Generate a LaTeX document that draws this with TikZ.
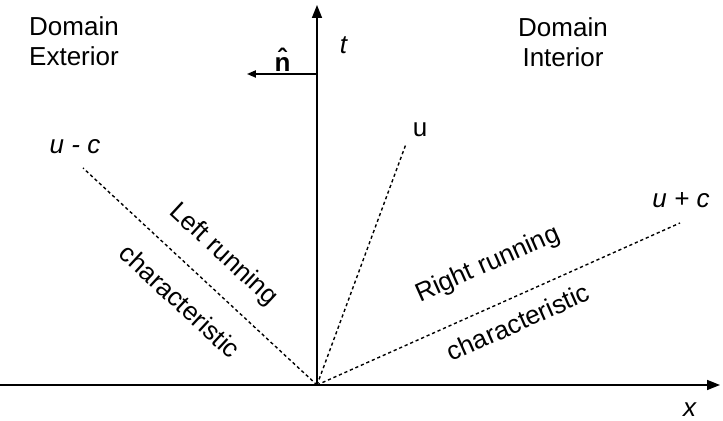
\documentclass[tikz,border=0pt]{standalone}
\usepackage{fontspec}
\setmainfont{Liberation Sans}
\usetikzlibrary{arrows.meta}
\tikzset{>=stealth}

\begin{document}
\begin{tikzpicture}[x=0.5pt,y=0.5pt,
		every node/.style={font=\fontsize{13}{15}\selectfont},
		axis/.style={line width=0.8pt,-{Triangle[length=6.5pt,width=5pt]}},
		charline/.style={line width=0.7pt,dash pattern=on 1.6pt off 1.4pt}]
				\useasboundingbox (-317,-36) rectangle (406,385);
				\coordinate (O) at (0,0);
				\coordinate (xStart) at (-317,0);
				\coordinate (xEnd) at (403,0);
				\coordinate (tEnd) at (0,380);
				\coordinate (nStart) at (-1,311);
				\coordinate (nEnd) at (-70,311);
				\coordinate (uEnd) at (89,241);
				\coordinate (upcEnd) at (363,162);
				\coordinate (umcEnd) at (-234,217);
				% axes
				\draw[axis] (xStart)--(xEnd);
				\draw[axis] (O)--(tEnd);
				\draw[line width=0.8pt,-{Triangle[length=4.5pt,width=3.6pt]}] (nStart)--(nEnd);
				% characteristics
				\draw[charline] (O)--(uEnd);
				\draw[charline] (O)--(upcEnd);
				\draw[charline] (O)--(umcEnd);
				% labels
				\node[align=left] (ext) at (-243,344) {Domain\\Exterior};
				\node[align=center] (int) at (246,343) {Domain\\Interior};
				\node (tlab) at (27,340) {\textit{t}};
				\node (xlab) at (373,-25) {\textit{x}};
				\node (nlab) at (-32,325) {\textbf{\^n}};
				\node (ulab) at (103,255) {u};
				\node (umclab) at (-242,238) {\textit{u - c}};
				\node (upclab) at (364,185) {\textit{u + c}};
				\node[rotate=-42.8] (leftrun) at (-94,130) {Left running};
				\node[rotate=-42.8] (leftchar) at (-137,84) {characteristic};
				\node[rotate=24] (rightrun) at (171,120) {Right running};
				\node[rotate=24] (rightchar) at (201,63) {characteristic};
\end{tikzpicture}
\end{document}
